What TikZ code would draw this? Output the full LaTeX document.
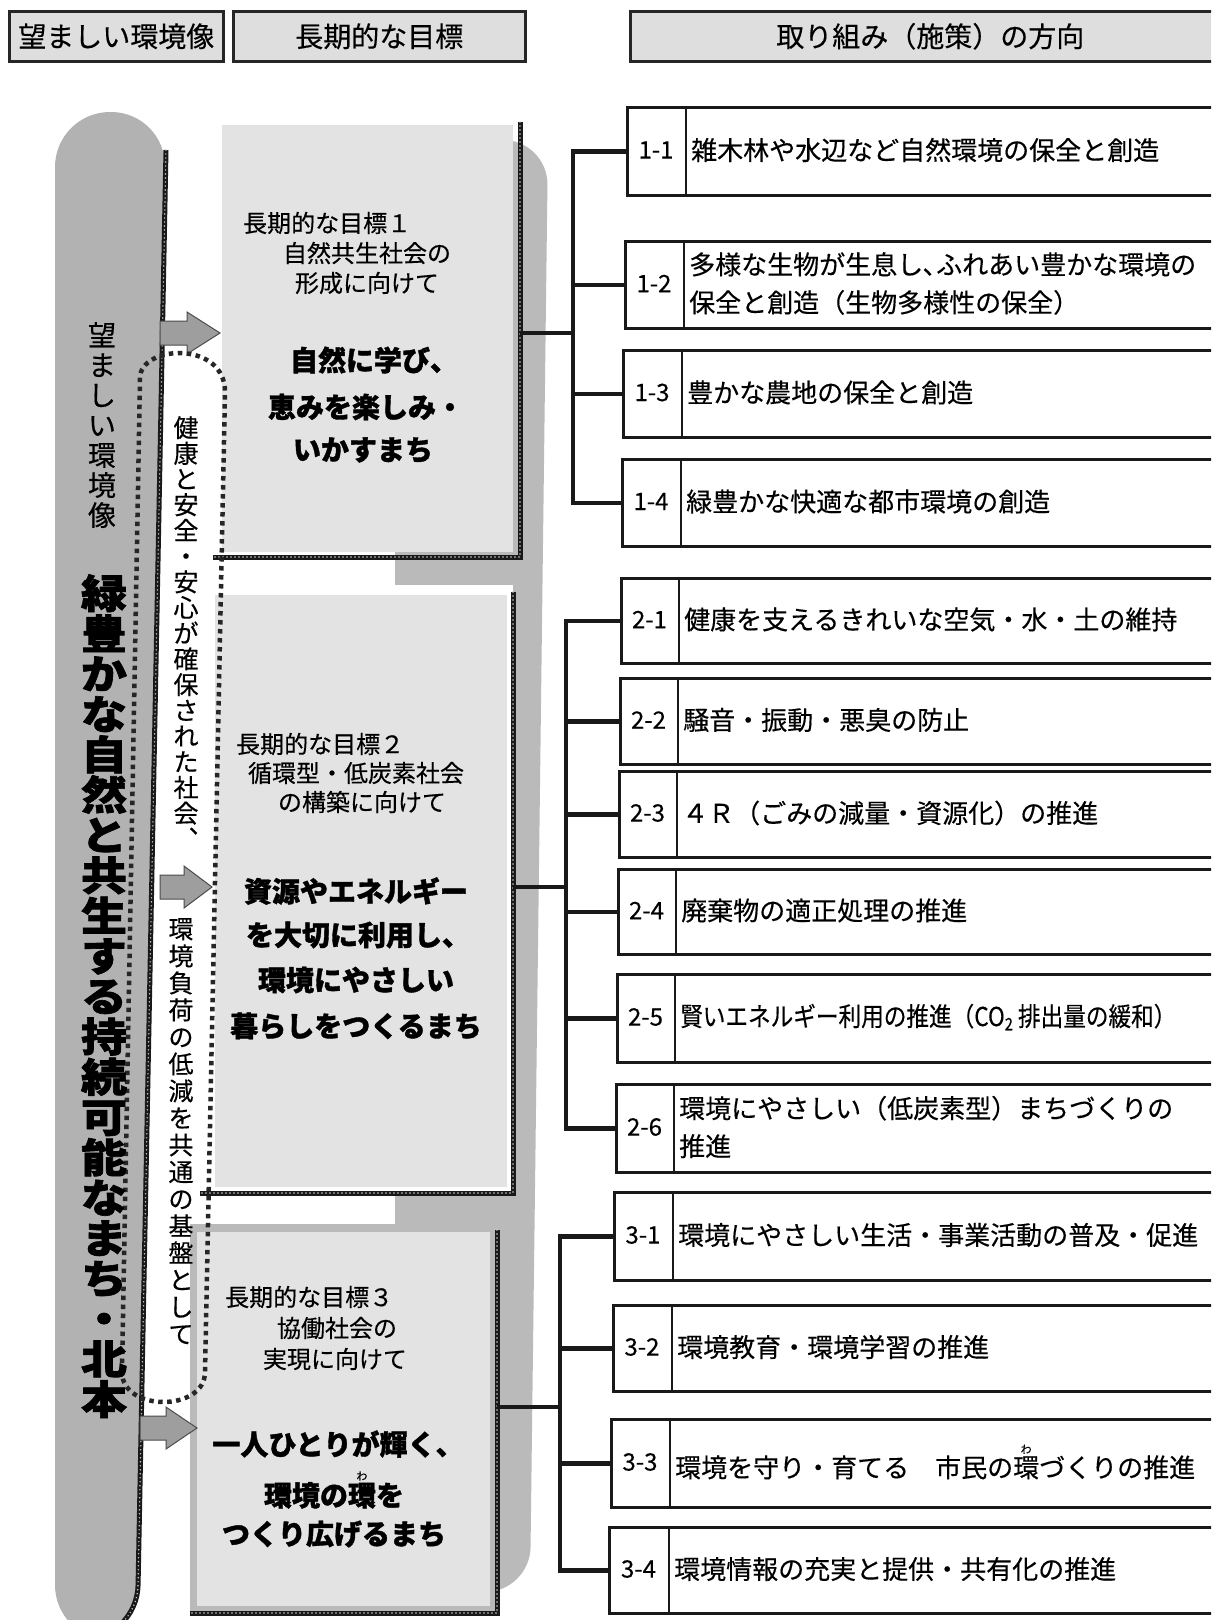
\documentclass[tikz,border=0pt]{standalone}
\usepackage{fontspec}
\usepackage{graphicx}
\setmainfont[UprightFeatures={FakeBold=0.35}, BoldFeatures={FakeBold=1.3}]{Noto Sans CJK JP}
\newfontfamily\jpwide[FakeStretch=1.15, UprightFeatures={FakeBold=0.35}, BoldFeatures={FakeBold=1.6}]{Noto Sans CJK JP}
\newfontfamily\jpnarrow[FakeStretch=0.87, UprightFeatures={FakeBold=0.35}]{Noto Sans CJK JP}
\usetikzlibrary{fit}
\newcommand\ruby[2]{\makebox[0pt][l]{\raisebox{0.92em}{\makebox[1em][c]{\mdseries\fontsize{11}{11}\selectfont #2}}}#1}
\newcommand\rb[7]{%
  \pgfmathsetmacro\rbw{1240-#3}\pgfmathsetmacro\rbh{#6-#5}%
  \node[rbox, anchor=north west, minimum width=\rbw pt, minimum height=\rbh pt] (#1) at (#3,#5) {};
  \draw[rline] (#4,#5) -- (#4,#6);
  \node[lab] (#1l) at ({(#3+#4)/2},{(#5+#6)/2}) {#2};
  \node[rtxt] (#1t) at ({#4+5},{(#5+#6)/2}) {#7};
}
\newcommand\barrow[4]{%
  \filldraw[arr] (#1,#4-12) -- (#2,#4-12) -- (#2,#4-21) -- (#3,#4) -- (#2,#4+21) -- (#2,#4+12) -- (#1,#4+12) -- cycle;}
\begin{document}
\begin{tikzpicture}[x=1pt,y=-1pt,
  chainline/.style={line width=5pt, draw=black!90, postaction={draw=white!80!black, line width=1.6pt, line cap=round, dash pattern=on 0pt off 4pt}},
  hdr/.style={draw=black!85, line width=2.6pt, fill=black!13, font=\fontsize{28}{28}\selectfont, inner sep=0},
  rbox/.style={draw=black!90, line width=2.6pt, fill=white, inner sep=0},
  rline/.style={line width=2.6pt, black!90},
  conn/.style={line width=4.5pt, black!90},
  lab/.style={font=\fontsize{24}{24}\selectfont, inner sep=0},
  rtxt/.style={font=\fontsize{26}{38}\selectfont, inner sep=0, anchor=west, align=left},
  gtxt/.style={font=\fontsize{24}{24}\selectfont, inner sep=0},
  gbold/.style={font=\fontsize{28}{28}\selectfont\bfseries, inner sep=0},
  vt/.style={align=center, inner sep=0, anchor=north},
  arr/.style={fill=black!38, draw=black!70, line width=1pt},
  dotl/.style={line width=4.5pt, draw=black!85, dash pattern=on 4.5pt off 4.5pt},
  pillc/.style={fill=black!30},
  backc/.style={fill=black!27},
  gfill/.style={fill=black!11}]
\useasboundingbox (0,0) rectangle (1211,1620);
\clip (0,0) rectangle (1211,1620);
\fill[white] (0,0) rectangle (1211,1620);

% pill
\fill[pillc, rounded corners=55pt] (55,112) -- (166,112) -- (137,1640) -- (55,1640) -- cycle;
\draw[chainline, rounded corners=55pt] (166,150) -- (137,1640) -- (55,1640);

% backing
\fill[backc, rounded corners=45pt] (395,140) -- (548,140) -- (530,1592) -- (395,1592) -- cycle;

% goal box 1
\fill[gfill] (222,125) rectangle (513,552);
\draw[chainline] (520,122) -- (520,557) -- (213,557);
% goal box 2
\fill[white] (205,585) rectangle (513,1193);
\fill[gfill] (215,595) rectangle (507,1187);
\draw[chainline] (513,592) -- (513,1193) -- (200,1193);
% goal box 3
\fill[backc] (190,1224) rectangle (497,1613);
\fill[gfill] (197,1232) rectangle (490,1606);
\draw[chainline] (497,1230) -- (497,1613) -- (190,1613);

\node[fit={(222,125) (520,557)}, inner sep=0] (g1) {};
\node[fit={(205,585) (513,1193)}, inner sep=0] (g2) {};
\node[fit={(190,1224) (497,1613)}, inner sep=0] (g3) {};

% arrows
\barrow{160}{187}{220}{333}
\barrow{160}{184}{212}{887}
\barrow{140}{166}{197}{1428}

% dotted loop
\draw[dotl] (122,1372) -- (140,378) .. controls (140,345) and (225,340) .. (225,392) -- (205,1372) .. controls (205,1412) and (122,1412) .. (122,1372);

% vertical texts
\node[vt, font=\fontsize{28}{30}\selectfont] (p1) at (102,322) {望\\ま\\し\\い\\環\\境\\像};
\node[vt, font=\fontsize{40}{40.3}\selectfont\jpwide\bfseries] (p2) at (104,574) {緑\\豊\\か\\な\\自\\然\\と\\共\\生\\す\\る\\持\\続\\可\\能\\な\\ま\\ち\\・\\北\\本};
\node[vt, font=\fontsize{25}{25.7}\selectfont] (s1) at (186,416) {健\\康\\と\\安\\全\\・\\安\\心\\が\\確\\保\\さ\\れ\\た\\社\\会\\︑};
\node[vt, font=\fontsize{25}{27}\selectfont] (s2) at (181,918) {環\\境\\負\\荷\\の\\低\\減\\を\\共\\通\\の\\基\\盤\\と\\し\\て};

% goal texts
\node[gtxt, anchor=west] (g1a) at (243,223) {長期的な目標１};
\node[gtxt] (g1b) at (367,253) {自然共生社会の};
\node[gtxt] (g1c) at (367,283) {形成に向けて};
\node[gbold] (g1d) at (374,360) {自然に学び、};
\node[gbold] (g1e) at (366,407) {恵みを楽しみ・};
\node[gbold] (g1f) at (363,450) {いかすまち};

\node[gtxt, anchor=west] (g2a) at (236,744) {長期的な目標２};
\node[gtxt] (g2b) at (356,773) {循環型・低炭素社会};
\node[gtxt] (g2c) at (362,802) {の構築に向けて};
\node[gbold] (g2d) at (356,891) {資源やエネルギー};
\node[gbold] (g2e) at (358,935) {を大切に利用し、};
\node[gbold] (g2f) at (356,980) {環境にやさしい};
\node[gbold] (g2g) at (356,1026) {暮らしをつくるまち};

\node[gtxt, anchor=west] (g3a) at (225,1297) {長期的な目標３};
\node[gtxt] (g3b) at (337,1328) {協働社会の};
\node[gtxt] (g3c) at (335,1359) {実現に向けて};
\node[gbold] (g3d) at (338,1444) {一人ひとりが輝く、};
\node[gbold] (g3e) at (334,1490) {環境の\ruby{環}{わ}を};
\node[gbold] (g3f) at (334,1534) {つくり広げるまち};

% headers
\node[hdr, minimum width=214pt, minimum height=50pt, anchor=north west] (h1) at (8,10) {望ましい環境像};
\node[hdr, minimum width=292pt, minimum height=50pt, anchor=north west] (h2) at (232,10) {長期的な目標};
\node[hdr, minimum width=600pt, minimum height=50pt, anchor=north west] (h3) at (629,10) {取り組み（施策）の方向};

% right boxes
\rb{b11}{1-1}{626}{686}{106}{194}{雑木林や水辺など自然環境の保全と創造}
\rb{b12}{1-2}{624}{684}{240}{327}{多様な生物が生息し､ふれあい豊かな環境の\\保全と創造（生物多様性の保全）}
\rb{b13}{1-3}{622}{682}{349}{436}{豊かな農地の保全と創造}
\rb{b14}{1-4}{621}{681}{458}{545}{緑豊かな快適な都市環境の創造}
\rb{b21}{2-1}{620}{679}{577}{662}{健康を支えるきれいな空気・水・土の維持}
\rb{b22}{2-2}{619}{678}{677}{763}{騒音・振動・悪臭の防止}
\rb{b23}{2-3}{618}{677}{770}{856}{４Ｒ（ごみの減量・資源化）の推進}
\rb{b24}{2-4}{617}{676}{868}{953}{廃棄物の適正処理の推進}
\rb{b25}{2-5}{616}{675}{973}{1061}{{\jpnarrow 賢いエネルギー利用の推進（CO\raisebox{-0.3ex}{\fontsize{17}{17}\selectfont 2} 排出量の緩和）}}
\rb{b26}{2-6}{615}{674}{1083}{1171}{環境にやさしい（低炭素型）まちづくりの\\推進}
\rb{b31}{3-1}{613}{673}{1191}{1279}{環境にやさしい生活・事業活動の普及・促進}
\rb{b32}{3-2}{612}{672}{1304}{1390}{環境教育・環境学習の推進}
\rb{b33}{3-3}{610}{670}{1418}{1506}{環境を守り・育てる　市民の\ruby{環}{わ}づくりの推進}
\rb{b34}{3-4}{608}{669}{1526}{1612}{環境情報の充実と提供・共有化の推進}

% connectors
\coordinate (j1) at (573,333);
\coordinate (j2) at (566,887);
\coordinate (j3) at (560,1407);
\draw[conn] (g1.east |- j1) -- (j1);
\draw[conn] (b11.west) -| (j1) |- (b14.west);
\draw[conn] (j1 |- b12.west) -- (b12.west);
\draw[conn] (j1 |- b13.west) -- (b13.west);
\draw[conn] (g2.east |- j2) -- (j2);
\draw[conn] (b21.west) -| (j2) |- (b26.west);
\draw[conn] (j2 |- b22.west) -- (b22.west);
\draw[conn] (j2 |- b23.west) -- (b23.west);
\draw[conn] (j2 |- b24.west) -- (b24.west);
\draw[conn] (j2 |- b25.west) -- (b25.west);
\draw[conn] (g3.east |- j3) -- (j3);
\draw[conn] (b31.west) -| (j3) |- (b34.west);
\draw[conn] (j3 |- b32.west) -- (b32.west);
\draw[conn] (j3 |- b33.west) -- (b33.west);
\end{tikzpicture}
\end{document}
